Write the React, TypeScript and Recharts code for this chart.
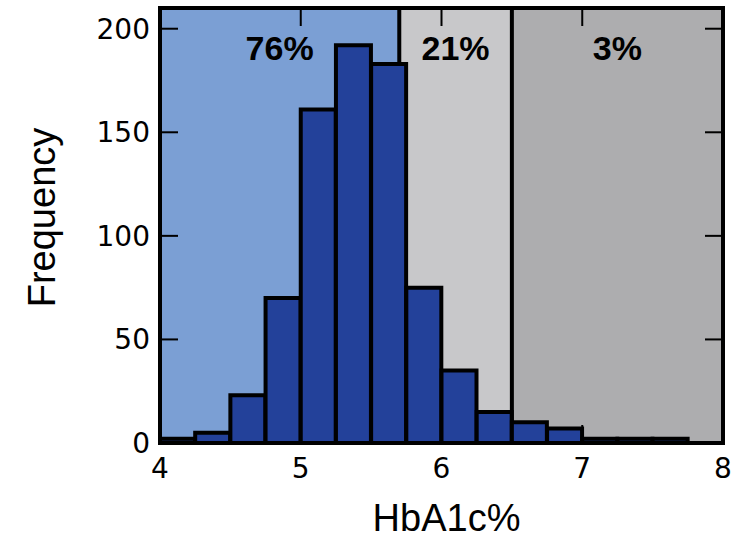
import React from 'react';
import { ComposedChart, Bar, XAxis, YAxis, ReferenceArea, ReferenceLine, Label } from 'recharts';

// histogram bins (left edge) and their counts
const binStarts = [4.0, 4.25, 4.5, 4.75, 5.0, 5.25, 5.5, 5.75, 6.0, 6.25, 6.5, 6.75, 7.0, 7.25, 7.5];
const binWidth = 0.25;
const counts = [2, 5, 23, 70, 161, 192, 183, 75, 35, 15, 10, 7, 2, 2, 2];

// shaded HbA1c ranges with the share of subjects in each
const zoneEdges = [4, 5.7, 6.5, 8];
const zoneColors = ['#7b9fd4', '#c8c8ca', '#adadaf'];
const zoneLabels = ['76%', '21%', '3%'];
const cutoffs = [5.7, 6.5];

const xTicks = [4, 5, 6, 7, 8];
const yTicks = [0, 50, 100, 150, 200];
const yMax = 210;

// inner tick marks drawn on all four sides of the frame
const innerXTicks = [5, 6, 7];
const innerYTicks = [50, 100, 150, 200];
const TICK_LEN = 18;

const data = binStarts.map((s, i) => ({ x: s + binWidth / 2, count: counts[i] }));

const tickStyle = { fill: '#000', fontSize: 28, fontFamily: 'DejaVu Sans' };
const frame = { stroke: '#000', strokeWidth: 4 };

// draws only the two stubs at the ends of a reference line
function TickStubs(props: any) {
  const { x1, y1, x2, y2 } = props;
  const vertical = Math.abs(x1 - x2) < 0.5;
  if (vertical) {
    const top = Math.min(y1, y2);
    const bot = Math.max(y1, y2);
    return (
      <g stroke="#000" strokeWidth={2}>
        <line x1={x1} x2={x1} y1={top} y2={top + TICK_LEN} />
        <line x1={x1} x2={x1} y1={bot} y2={bot - TICK_LEN} />
      </g>
    );
  }
  const left = Math.min(x1, x2);
  const right = Math.max(x1, x2);
  return (
    <g stroke="#000" strokeWidth={2}>
      <line x1={left} x2={left + TICK_LEN} y1={y1} y2={y1} />
      <line x1={right} x2={right - TICK_LEN} y1={y1} y2={y1} />
    </g>
  );
}

export default function App() {
  return (
    <div style={{ position: 'absolute', left: 0, top: 0, fontFamily: 'DejaVu Sans', background: '#fff' }}>
      <ComposedChart
        width={741}
        height={540}
        data={data}
        barCategoryGap={0}
        margin={{ top: 8, right: 18, left: 0, bottom: 0 }}
      >
        <XAxis
          dataKey="x"
          type="number"
          domain={[4, 8]}
          ticks={xTicks}
          allowDataOverflow
          height={97}
          tick={tickStyle}
          tickSize={-18}
          tickMargin={33}
          axisLine={frame}
          tickLine={false}
        >
          <Label
            value="HbA1c%"
            position="insideBottom"
            offset={9}
            dx={5}
            fill="#000"
            fontSize={38}
            fontFamily="Liberation Sans"
          />
        </XAxis>
        <YAxis
          type="number"
          domain={[0, yMax]}
          ticks={yTicks}
          allowDataOverflow
          width={160}
          tick={tickStyle}
          tickSize={-18}
          tickMargin={28}
          axisLine={frame}
          tickLine={false}
        >
          <Label
            value="Frequency"
            angle={-90}
            position="center"
            dx={-38}
            dy={-8}
            fill="#000"
            fontSize={38}
            fontFamily="Liberation Sans"
          />
        </YAxis>

        {zoneColors.map((c, i) => (
          <ReferenceArea
            key={i}
            x1={zoneEdges[i]}
            x2={zoneEdges[i + 1]}
            y1={0}
            y2={yMax}
            fill={c}
            fillOpacity={1}
            stroke="none"
            zIndex={-20}
            label={{
              value: zoneLabels[i],
              position: 'insideTop',
              offset: 28,
              fill: '#000',
              fontSize: 34,
              fontWeight: 'bold',
              fontFamily: 'Liberation Sans',
            }}
          />
        ))}
        {cutoffs.map((c) => (
          <ReferenceLine key={c} x={c} stroke="#000" strokeWidth={4} zIndex={-10} />
        ))}

        <Bar dataKey="count" fill="#23419a" stroke="#000" strokeWidth={4} isAnimationActive={false} />

        {innerXTicks.map((t) => (
          <ReferenceLine key={'x' + t} x={t} shape={TickStubs} zIndex={900} />
        ))}
        {innerYTicks.map((t) => (
          <ReferenceLine key={'y' + t} y={t} shape={TickStubs} zIndex={900} />
        ))}

        {/* outer frame of the plot area */}
        <ReferenceArea x1={4} x2={8} y1={0} y2={yMax} fill="none" stroke="#000" strokeWidth={4} zIndex={1000} />
      </ComposedChart>
    </div>
  );
}
